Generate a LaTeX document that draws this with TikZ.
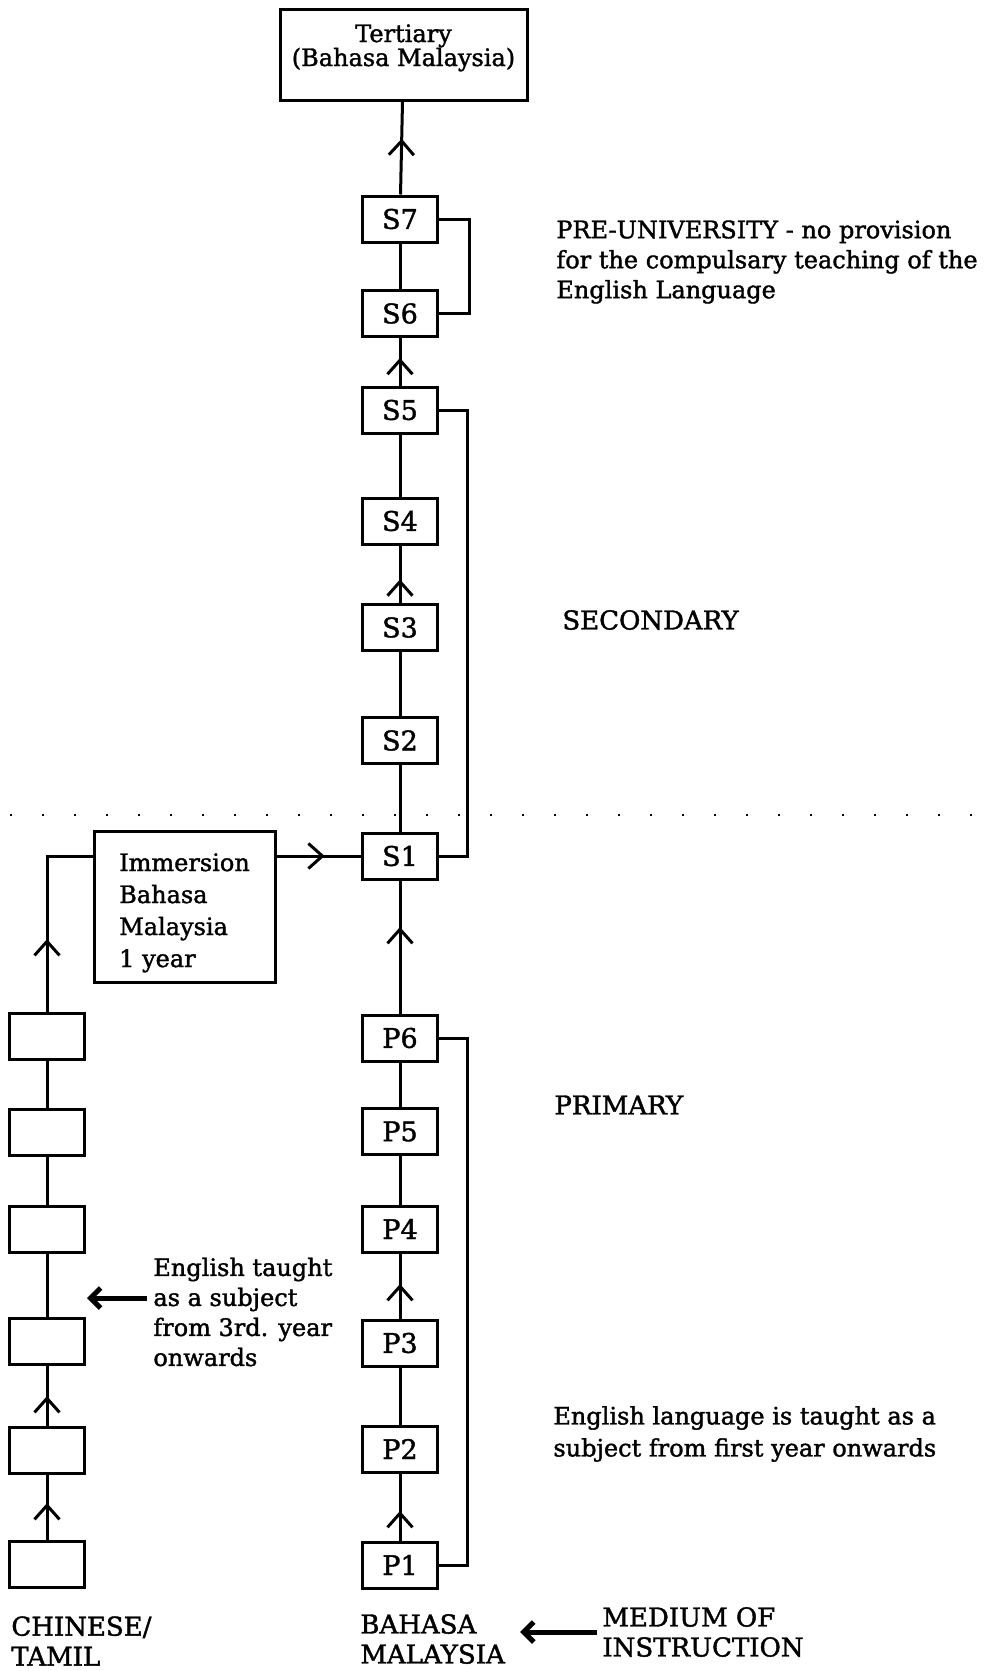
\documentclass[tikz,border=0pt]{standalone}
\usepackage{fontspec}
\setmainfont{DejaVu Serif}[FakeBold=1.5]
\usepackage{tikz}
\usetikzlibrary{arrows.meta,decorations.markings}
\tikzset{
  >={Straight Barb[length=7pt,width=12.5pt]},
  every picture/.append style={font=\fontsize{12}{15}\selectfont},
  yearbox/.style={rectangle,draw,line width=1.5pt,minimum width=37.5pt,minimum height=23pt,inner sep=0pt,font=\fontsize{13.5}{15}\selectfont},
  bigbox/.style={rectangle,draw,line width=1.5pt,inner sep=0pt},
  link/.style={draw,line width=1.5pt},
  midarrow/.style={postaction={decorate},decoration={markings,mark=at position #1 with {\arrow{>}}}},
  notearrow/.style={-{Straight Barb[length=5pt,width=10pt]},line width=2.5pt},
  note/.style={anchor=west,align=left,inner sep=0pt},
  capnote/.style={note,font=\fontsize{13}{15}\selectfont},
  divider/.style={line width=1pt,dash pattern=on 1pt off 15pt},
}

\begin{document}
\begin{tikzpicture}[x=0.5pt,y=-0.5pt]
  \useasboundingbox (0,0) rectangle (1004,1671);

  \node[bigbox, minimum width=123.5pt, minimum height=45.5pt, align=center,
        font=\fontsize{12}{12}\selectfont, text height=21pt, text depth=9.5pt]
        (tertiary) at (403.5,54.5) {Tertiary\\(Bahasa Malaysia)};

  \node[yearbox] (S7) at (400,219) {S7};
  \node[yearbox] (S6) at (400,313.5) {S6};
  \node[yearbox] (S5) at (400,410) {S5};
  \node[yearbox] (S4) at (400,521) {S4};
  \node[yearbox] (S3) at (400,627.5) {S3};
  \node[yearbox] (S2) at (400,740.5) {S2};
  \node[yearbox] (S1) at (400,856) {S1};
  \node[yearbox] (P6) at (400,1038) {P6};
  \node[yearbox] (P5) at (400,1131.5) {P5};
  \node[yearbox] (P4) at (400,1229) {P4};
  \node[yearbox] (P3) at (400,1343) {P3};
  \node[yearbox] (P2) at (400,1449) {P2};
  \node[yearbox] (P1) at (400,1565) {P1};

  \node[yearbox] (L6) at (47,1036) {};
  \node[yearbox] (L5) at (47,1132) {};
  \node[yearbox] (L4) at (47,1229) {};
  \node[yearbox] (L3) at (47,1341) {};
  \node[yearbox] (L2) at (47,1450) {};
  \node[yearbox] (L1) at (47,1564) {};

  \node[bigbox, minimum width=90.5pt, minimum height=75.5pt, align=left,
        font=\fontsize{12}{16}\selectfont, text height=63pt, text depth=2.5pt]
        (immersion) at (184.5,906.5) {Immersion\\Bahasa\\Malaysia\\1 year};

  \node[note] (preuni) at (556,262) {PRE-UNIVERSITY - no provision\\for the compulsary teaching of the\\English Language};
  \node[capnote] (secondary) at (562,620) {SECONDARY};
  \node[capnote] (primary) at (554,1105) {PRIMARY};
  \node[note, font=\fontsize{12}{16}\selectfont] (english) at (553,1434) {English language is taught as a\\subject from first year onwards};
  \node[note] (engnote) at (153,1312) {English taught\\as a subject\\from 3rd. year\\onwards};
  \node[capnote] (chinese) at (11,1641) {CHINESE/\\TAMIL};
  \node[capnote] (bahasa) at (360,1639) {BAHASA\\MALAYSIA};
  \node[capnote] (medium) at (602,1632) {MEDIUM OF\\INSTRUCTION};

  \coordinate (divleft) at (10,815);
  \coordinate (divright) at (990,815);
  \draw[divider] (divleft) -- (divright);

  \draw[link, midarrow=0.6] (S7) -- (tertiary);
  \draw[link] (S6) -- (S7);
  \draw[link, midarrow=0.58] (S5) -- (S6);
  \draw[link] (S4) -- (S5);
  \draw[link, midarrow=0.41] (S3) -- (S4);
  \draw[link] (S2) -- (S3);
  \draw[link] (S1) -- (S2);
  \draw[link, midarrow=0.65] (P6) -- (S1);
  \draw[link] (P5) -- (P6);
  \draw[link] (P4) -- (P5);
  \draw[link, midarrow=0.53] (P3) -- (P4);
  \draw[link] (P2) -- (P3);
  \draw[link, midarrow=0.44] (P1) -- (P2);

  \draw[link] (S7.east) -- ++(30.5,0) |- (S6.east);
  \draw[link] (S5.east) -- ++(28.5,0) |- (S1.east);
  \draw[link] (P6.east) -- ++(28.5,0) |- (P1.east);

  \draw[link, midarrow=0.56] (L1) -- (L2);
  \draw[link, midarrow=0.49] (L2) -- (L3);
  \draw[link] (L3) -- (L4);
  \draw[link] (L4) -- (L5);
  \draw[link] (L5) -- (L6);
  \coordinate (bend) at (L6 |- S1);
  \draw[link, midarrow=0.36] (L6) -- (bend) -- (bend -| immersion.west);
  \draw[link, midarrow=0.57] (immersion.east |- S1) -- (S1);

  \coordinate (engtip) at (87,1298);
  \draw[notearrow, shorten <=3pt] (engnote.west |- engtip) -- (engtip);
  \draw[notearrow, shorten <=2.5pt, shorten >=7.5pt] (medium.west) -- (medium.west -| bahasa.east);
\end{tikzpicture}
\end{document}
